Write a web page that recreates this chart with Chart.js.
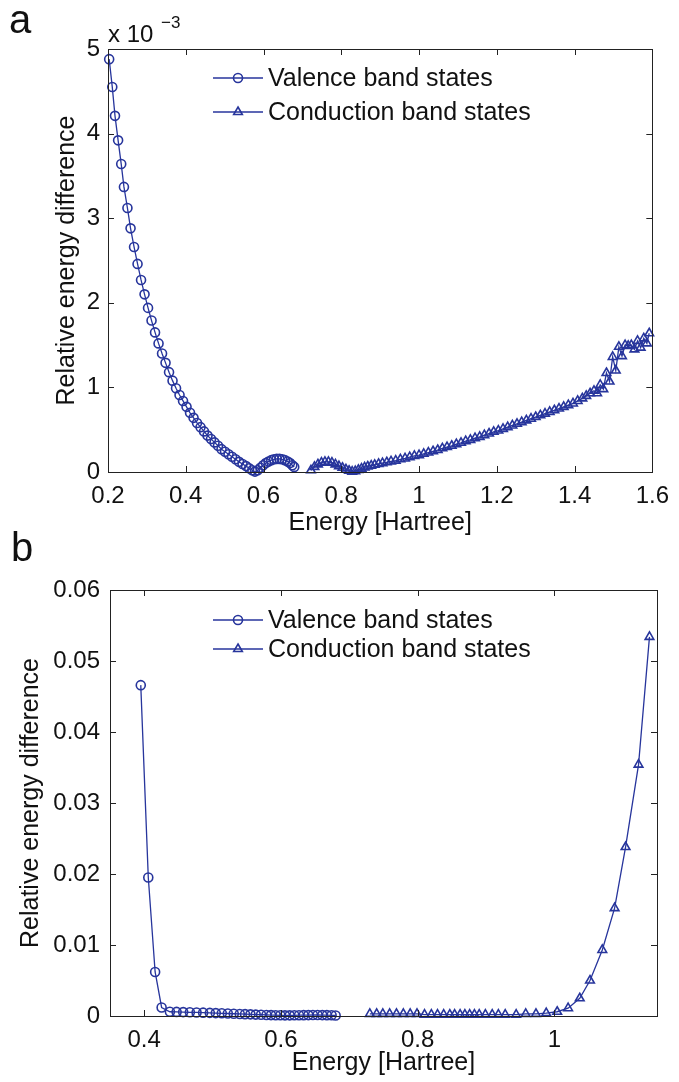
<!DOCTYPE html>
<html>
<head>
<meta charset="utf-8">
<script src="https://cdn.jsdelivr.net/npm/chart.js@4.4.1/dist/chart.umd.min.js"></script>
<style>
  html, body { margin: 0; padding: 0; background: #fff; }
  #wrap { position: relative; width: 679px; height: 1082px; }
  canvas { position: absolute; left: 0; }
  #chartA { top: 0; }
  #chartB { top: 520px; }
</style>
</head>
<body>
<div id="wrap">
  <canvas id="chartA" width="679" height="540"></canvas>
  <canvas id="chartB" width="679" height="562"></canvas>
</div>
<script>
// panel a (values in units of 1e-3)
const valEnergyA = [0.203,0.211,0.218,0.226,0.234,0.241,0.250,0.258,0.267,0.276,
  0.285,0.294,0.303,0.312,0.321,0.330,0.339,0.348,0.357,0.366,
  0.375,0.384,0.393,0.402,0.411,0.420,0.429,0.438,0.447,0.456,
  0.465,0.474,0.483,0.492,0.501,0.510,0.519,0.528,0.537,0.546,
  0.555,0.563,0.571,0.578,0.585,0.592,0.599,0.606,0.613,0.620,
  0.627,0.634,0.641,0.648,0.655,0.662,0.668,0.674,0.679];
const valDiffA = [4.88,4.55,4.21,3.92,3.64,3.37,3.12,2.88,2.66,2.46,
  2.27,2.10,1.94,1.79,1.65,1.52,1.40,1.29,1.18,1.08,
  0.99,0.91,0.84,0.77,0.70,0.64,0.58,0.53,0.48,0.43,
  0.39,0.35,0.31,0.27,0.24,0.21,0.18,0.15,0.12,0.095,
  0.07,0.045,0.02,0.005,0.02,0.05,0.08,0.105,0.125,0.14,
  0.15,0.155,0.155,0.15,0.14,0.125,0.105,0.08,0.06];
const conEnergyA = [0.722,0.731,0.740,0.749,0.758,0.767,0.776,0.785,0.794,0.803,0.812,0.820,0.828,
  0.836,0.844,0.852,0.860,0.868,
  0.877,0.886,0.896,0.906,0.917,0.928,0.940,0.952,0.964,0.976,0.988,
  1.000,1.012,1.024,1.036,1.048,1.060,1.072,1.084,1.096,1.108,1.120,1.132,1.144,1.156,1.168,1.180,
  1.192,1.204,1.216,1.228,1.240,1.252,1.264,1.276,1.288,1.300,1.312,1.324,1.336,1.348,1.360,1.372,
  1.384,1.396,1.408,1.420,1.430,1.440,
  1.450,1.458,1.466,1.474,1.482,1.490,1.498,1.506,1.514,1.522,1.530,1.538,1.546,1.554,1.562,1.570,
  1.578,1.586,1.592];
const conDiffA = [0.02,0.06,0.09,0.11,0.12,0.12,0.11,0.09,0.07,0.05,0.03,0.015,0.005,
  0.01,0.025,0.04,0.055,0.065,
  0.075,0.085,0.095,0.105,0.115,0.125,0.135,0.15,0.16,0.175,0.19,
  0.20,0.215,0.23,0.245,0.26,0.28,0.295,0.31,0.33,0.345,0.365,0.38,0.40,0.415,0.435,0.455,
  0.475,0.49,0.51,0.53,0.55,0.57,0.59,0.61,0.63,0.65,0.67,0.69,0.71,0.73,0.75,0.77,
  0.79,0.81,0.84,0.87,0.90,0.93,
  0.96,0.93,1.03,0.98,1.17,1.07,1.36,1.20,1.48,1.37,1.50,1.49,1.50,1.45,1.55,1.47,
  1.58,1.52,1.64];
const xTicksA = [0.2, 0.4, 0.6, 0.8, 1, 1.2, 1.4, 1.6];
const yTicksA = [0, 1, 2, 3, 4, 5];

// panel b
const valEnergyB = [0.395,0.406,0.416,0.4255,
  0.4376,0.4474,0.457,0.4668,0.4766,0.4862,0.496,0.5047,0.5135,0.5223,0.531,0.5398,
  0.5475,0.5554,0.5631,0.5709,0.5788,0.5855,0.5923,0.5992,0.6059,0.6128,0.6196,0.6264,
  0.6332,0.6401,0.6468,0.6536,0.6605,0.6672,0.6741,0.680];
const valDiffB = [0.0466,0.0195,0.0062,0.0012,
  0.00060,0.00058,0.00055,0.00052,0.00050,0.00047,0.00044,0.00041,0.00038,0.00035,0.00032,0.00029,
  0.00026,0.00023,0.00020,0.00018,0.00015,0.00013,0.00011,0.00010,0.00009,0.00009,0.00010,0.00011,
  0.00012,0.00013,0.00014,0.00014,0.00013,0.00012,0.00010,0.00008];
const conEnergyB = [0.730,0.740,0.749,0.759,0.769,0.779,0.789,0.799,0.810,0.820,0.829,0.838,
  0.847,0.854,0.862,0.869,0.876,0.883,0.890,0.899,0.909,0.918,0.928,0.944,0.958,0.973,0.988,
  1.004,1.020,1.037,1.052,1.070,1.088,1.104,1.123,1.139];
const conDiffB = [0.0003,0.0003,0.0003,0.0003,0.0003,0.0003,0.0003,0.0003,0.0002,0.0002,0.0002,0.0002,
  0.0002,0.0002,0.0002,0.0002,0.0002,0.0002,0.0002,0.0002,0.0002,0.0002,0.0002,0.0002,0.0003,0.0003,0.0004,
  0.0006,0.0011,0.0025,0.0050,0.0093,0.0152,0.0238,0.0354,0.0534];
const xTicksB = [0.4, 0.6, 0.8, 1];
const yTicksB = [0, 0.01, 0.02, 0.03, 0.04, 0.05, 0.06];

const seriesNames = ['Valence band states', 'Conduction band states'];
const BLUE = '#27359c';
const FONT = '"Liberation Sans", Arial, sans-serif';

function pts(xs, ys) {
  const out = [];
  for (let i = 0; i < Math.min(xs.length, ys.length); i++) out.push({x: xs[i], y: ys[i]});
  return out;
}

// MATLAB-like box, inward ticks, legend, panel letter
const matlabBox = {
  id: 'matlabBox',
  afterDraw(chart, args, o) {
    const ctx = chart.ctx;
    const a = chart.chartArea;
    const xs = chart.scales.x, ys = chart.scales.y;
    ctx.save();
    ctx.strokeStyle = '#222';
    ctx.lineWidth = 1;
    ctx.strokeRect(Math.round(a.left) + 0.5, Math.round(a.top) + 0.5,
      Math.round(a.right - a.left), Math.round(a.bottom - a.top));
    ctx.beginPath();
    xs.ticks.forEach(t => {
      const p = Math.round(xs.getPixelForValue(t.value)) + 0.5;
      ctx.moveTo(p, a.bottom); ctx.lineTo(p, a.bottom - 6);
      ctx.moveTo(p, a.top); ctx.lineTo(p, a.top + 6);
    });
    ys.ticks.forEach(t => {
      const p = Math.round(ys.getPixelForValue(t.value)) + 0.5;
      ctx.moveTo(a.left, p); ctx.lineTo(a.left + 6, p);
      ctx.moveTo(a.right, p); ctx.lineTo(a.right - 6, p);
    });
    ctx.stroke();

    // legend
    ctx.font = '25px ' + FONT;
    ctx.textBaseline = 'middle';
    chart.data.datasets.forEach((ds, i) => {
      const y = o.rows[i];
      ctx.strokeStyle = BLUE;
      ctx.lineWidth = 1.3;
      ctx.beginPath();
      ctx.moveTo(o.x0, y); ctx.lineTo(o.x1, y);
      ctx.stroke();
      ctx.fillStyle = 'rgba(0,0,0,0)';
      ctx.lineWidth = 1.6;
      Chart.helpers.drawPoint(ctx, {pointStyle: ds.pointStyle, radius: ds.pointRadius, borderWidth: 1.6, rotation: 0},
        (o.x0 + o.x1) / 2, y);
      ctx.fillStyle = '#111';
      ctx.fillText(ds.label, o.x1 + 5, y + 1);
    });

    // panel letter
    ctx.fillStyle = '#111';
    ctx.textBaseline = 'alphabetic';
    ctx.font = '40px ' + FONT;
    ctx.fillText(o.letter, o.letterX, o.letterY);

    // exponent
    if (o.exponent) {
      ctx.font = '24px ' + FONT;
      ctx.fillText('x 10', a.left, a.top - 7);
      ctx.font = '17px ' + FONT;
      ctx.fillText(o.exponent, a.left + 53, a.top - 21);
    }
    ctx.restore();
  }
};

function makeChart(id, g) {
  return new Chart(document.getElementById(id), {
    type: 'scatter',
    data: {
      datasets: [
        {
          label: seriesNames[0],
          data: pts(g.valE, g.valV),
          showLine: true,
          borderColor: BLUE,
          borderWidth: 1.3,
          pointStyle: 'circle',
          pointRadius: 4.5,
          pointBorderWidth: 1.6,
          pointBorderColor: BLUE,
          pointBackgroundColor: 'rgba(0,0,0,0)',
          clip: false
        },
        {
          label: seriesNames[1],
          data: pts(g.conE, g.conV),
          showLine: true,
          borderColor: BLUE,
          borderWidth: 1.3,
          pointStyle: 'triangle',
          pointRadius: 5,
          pointBorderWidth: 1.6,
          pointBorderColor: BLUE,
          pointBackgroundColor: 'rgba(0,0,0,0)',
          clip: false
        }
      ]
    },
    options: {
      responsive: false,
      animation: false,
      layout: { padding: g.pad },
      plugins: {
        legend: { display: false },
        tooltip: { enabled: false },
        matlabBox: g.box
      },
      scales: {
        x: {
          type: 'linear',
          min: g.xMin, max: g.xMax,
          afterBuildTicks: s => { s.ticks = g.xTicks.map(v => ({value: v})); },
          afterFit: s => { s.height = g.xH; },
          grid: { display: false, drawTicks: false },
          border: { display: false },
          ticks: { color: '#111', font: { family: FONT, size: 24 }, padding: 10, maxRotation: 0,
                   callback: v => String(v) },
          title: { display: true, text: 'Energy [Hartree]', color: '#111',
                   font: { family: FONT, size: 25 }, padding: { top: 0, bottom: g.xTitlePad } }
        },
        y: {
          type: 'linear',
          min: g.yMin, max: g.yMax,
          afterBuildTicks: s => { s.ticks = g.yTicks.map(v => ({value: v})); },
          afterFit: s => { s.width = g.yW; },
          grid: { display: false, drawTicks: false },
          border: { display: false },
          ticks: { color: '#111', font: { family: FONT, size: 24 }, padding: g.yTickPad,
                   callback: v => String(v) },
          title: { display: true, text: 'Relative energy difference', color: '#111',
                   font: { family: FONT, size: 25 }, padding: { top: g.yTitlePad, bottom: 0 } }
        }
      }
    },
    plugins: [matlabBox]
  });
}

makeChart('chartA', {
  valE: valEnergyA, valV: valDiffA, conE: conEnergyA, conV: conDiffA,
  xMin: 0.2, xMax: 1.6, yMin: 0, yMax: 5, xTicks: xTicksA, yTicks: yTicksA,
  pad: { top: 49, right: 18, left: 0, bottom: 0 },
  xH: 68, yW: 108, xTitlePad: 2, yTitlePad: 52, yTickPad: 8,
  box: { rows: [78, 112], x0: 213, x1: 263, letter: 'a', letterX: 9, letterY: 33, exponent: '\u22123' }
});

makeChart('chartB', {
  valE: valEnergyB, valV: valDiffB, conE: conEnergyB, conV: conDiffB,
  xMin: 0.35, xMax: 1.15, yMin: 0, yMax: 0.06, xTicks: xTicksB, yTicks: yTicksB,
  pad: { top: 70, right: 22, left: 0, bottom: 0 },
  xH: 66, yW: 110, xTitlePad: 4, yTitlePad: 16, yTickPad: 10,
  box: { rows: [100, 129], x0: 213, x1: 263, letter: 'b', letterX: 11, letterY: 41, exponent: null }
});
</script>
</body>
</html>
